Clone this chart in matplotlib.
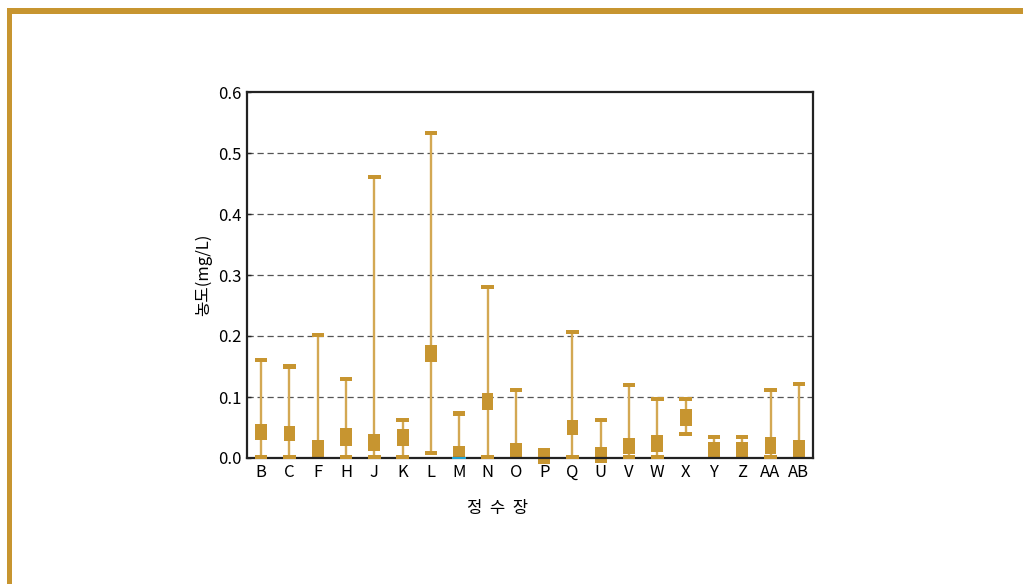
import matplotlib
matplotlib.use("Agg")
import matplotlib.pyplot as plt
from matplotlib.patches import Rectangle
from matplotlib.lines import Line2D

# Water treatment plants and concentration summary (mg/L)
plants = ["B", "C", "F", "H", "J", "K", "L", "M", "N", "O",
          "P", "Q", "U", "V", "W", "X", "Y", "Z", "AA", "AB"]
max_vals = [0.160, 0.150, 0.201, 0.130, 0.461, 0.062, 0.533, 0.073, 0.280, 0.111,
            None, 0.207, 0.062, 0.120, 0.097, 0.097, 0.035, 0.035, 0.112, 0.122]
min_vals = [0.002, 0.002, None, 0.002, 0.002, 0.002, 0.008, None, 0.002, None,
            None, 0.002, None, 0.002, 0.002, 0.040, None, None, 0.002, None]
q1_vals = [0.030, 0.028, 0.000, 0.019, 0.012, 0.019, 0.158, 0.000, 0.078, 0.000,
           -0.010, 0.038, -0.009, 0.006, 0.010, 0.052, 0.000, 0.000, 0.006, 0.000]
q3_vals = [0.055, 0.053, 0.029, 0.050, 0.040, 0.048, 0.185, 0.020, 0.107, 0.025,
           0.017, 0.063, 0.018, 0.032, 0.037, 0.080, 0.027, 0.027, 0.034, 0.030]
y_ticks = [0.0, 0.1, 0.2, 0.3, 0.4, 0.5, 0.6]

GOLD = "#C79530"
WHISKER = "#D3A853"
CYAN = "#22A8DA"

plt.rcParams["font.family"] = ["Noto Sans CJK KR", "DejaVu Sans"]
plt.rcParams["font.weight"] = "light"

fig = plt.figure(figsize=(10.23, 5.84), dpi=100)
fig.patch.set_facecolor("white")

# decorative frame along top and left edge
fig.add_artist(Rectangle((7 / 1023, 1 - 14 / 584), 1 - 7 / 1023, 6 / 584,
                         transform=fig.transFigure, color=GOLD, lw=0))
fig.add_artist(Rectangle((7 / 1023, 0), 5 / 1023, 1 - 8 / 584,
                         transform=fig.transFigure, color=GOLD, lw=0))

ax = fig.add_axes([247 / 1023, 1 - 458 / 584, 566 / 1023, 366 / 584])
ax.set_xlim(-0.5, len(plants) - 0.5)
ax.set_ylim(0, 0.6)

box_w = 0.42
cap_w = 0.44
cap_h = 0.0068

for i, name in enumerate(plants):
    lo = min_vals[i] if min_vals[i] is not None else q1_vals[i]
    hi = max_vals[i] if max_vals[i] is not None else q3_vals[i]
    if hi > lo:
        ax.vlines(i, lo, hi, color=WHISKER, lw=1.7, zorder=3)
    # box from first to third quartile
    ax.add_patch(Rectangle((i - box_w / 2, q1_vals[i]), box_w, q3_vals[i] - q1_vals[i],
                           color=GOLD, lw=0, zorder=4, clip_on=False))
    # whisker caps
    if max_vals[i] is not None:
        ax.add_patch(Rectangle((i - cap_w / 2, max_vals[i] - cap_h / 2), cap_w, cap_h,
                               color=GOLD, lw=0, zorder=4, clip_on=False))
    if min_vals[i] is not None:
        ax.add_patch(Rectangle((i - cap_w / 2, min_vals[i] - cap_h / 2), cap_w, cap_h,
                               color=GOLD, lw=0, zorder=7, clip_on=False))

# zero-level marker on plant M
m = plants.index("M")
ax.add_line(Line2D([m - box_w / 2, m + box_w / 2], [0.0008, 0.0008],
                   color=CYAN, lw=1.4, zorder=8, clip_on=False))

for y in y_ticks[1:-1]:
    ax.axhline(y, color="#555555", lw=0.9, ls=(0, (5, 3)), zorder=1)

ax.set_yticks(y_ticks)
ax.set_yticklabels([f"{v:.1f}" for v in y_ticks])
ax.set_xticks(range(len(plants)))
ax.set_xticklabels(plants)
ax.tick_params(axis="y", direction="in", length=3, width=1, color="#222222",
               labelsize=12, pad=4)
ax.tick_params(axis="x", length=0, labelsize=12, pad=4)

for s in ax.spines.values():
    s.set_color("#222222")
    s.set_linewidth(1.6)
    s.set_zorder(6)

ax.set_ylabel("농도(mg/L)", fontsize=12, labelpad=4)
ax.set_xlabel("정  수  장", fontsize=12)
ax.xaxis.set_label_coords(0.442, -0.115)

fig.savefig("out.png", dpi=100, facecolor="white")
